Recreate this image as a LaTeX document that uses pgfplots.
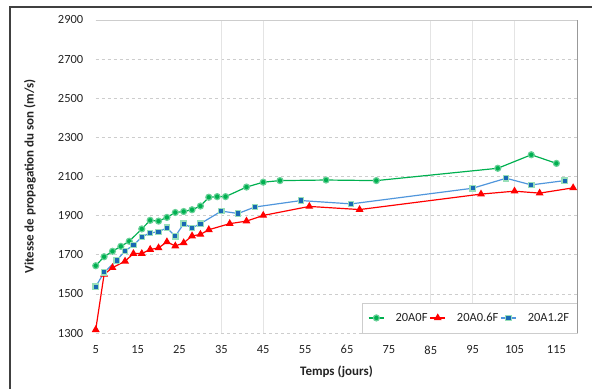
\documentclass[border=0pt]{standalone}
\usepackage{fontspec}
\setmainfont{Carlito}
\usepackage{pgfplots}
\pgfplotsset{compat=1.18}
\definecolor{cgreen}{RGB}{0,176,80}
\definecolor{cred}{RGB}{255,0,0}
\definecolor{cblueline}{RGB}{80,150,220}
\definecolor{cbluemark}{RGB}{25,105,180}
\definecolor{gridc}{RGB}{205,205,205}
\definecolor{vgridc}{RGB}{228,228,228}
\definecolor{txt}{RGB}{35,35,35}
\pgfplotstableread{
x y
5 1644
7 1690
9 1718
11 1743
13 1769
16 1832
18 1876
20 1872
22 1891
24 1916
26 1921
28 1930
30 1949
32 1994
34 1997
36 1997
41 2046
45 2071
49 2079
60 2082
72 2079
101 2142
109 2211
115 2167
}\greendata
\pgfplotstableread{
x y
5 1317
7 1600
9 1634
12 1667
14 1706
16 1706
18 1727
20 1735
22 1766
24 1745
26 1761
28 1796
30 1804
32 1828
37 1859
41 1872
45 1901
56 1947
68 1931
97 2010
105 2025
111 2015
119 2042
}\reddata
\pgfplotstableread{
x y
5 1537
7 1610
10 1671
12 1720
14 1749
16 1791
18 1812
20 1817
22 1838
24 1794
26 1859
28 1837
30 1859
35 1923
39 1911
43 1944
54 1977
66 1960
95 2040
103 2091
109 2057
117 2079
}\bluedata
\begin{document}
\begin{tikzpicture}
\begin{axis}[name=ax,
  scale only axis, width=483pt, height=314pt,
  xmin=5, xmax=120, ymin=1300, ymax=2900,
  xtick={5,15,...,115}, ytick={1300,1500,...,2900},
  extra x ticks={35,45,85,95,105},
  extra x tick labels={},
  extra x tick style={xmajorgrids=true, major grid style={draw=vgridc, line width=0.8pt, solid}},
  ymajorgrids=true,
  major grid style={draw=gridc, dash pattern=on 3pt off 3pt, line width=0.8pt},
  major tick length=0pt,
  axis line style={draw=none},
  /pgf/number format/assume math mode=true,
  /pgf/number format/set thousands separator={},
  tick label style={font=\fontsize{12.5}{14}\selectfont, text=txt},
  xticklabel style={yshift=-9pt},
  yticklabel style={xshift=-9pt},
  xlabel={Temps (jours)},
  ylabel={Vitesse de propagation du son (m/s)},
  label style={font=\fontsize{13}{15}\selectfont\bfseries, text=txt},
  xlabel style={at={([yshift=-39pt]rel axis cs:0.5,0)}, anchor=center},
  ylabel style={at={([xshift=-66pt]rel axis cs:0,0.5)}, anchor=center},
  legend columns=3,
  legend style={at={(rel axis cs:1,0)}, anchor=south east, draw=gridc, fill=white,
    font=\fontsize{12.5}{14}\selectfont, text=txt, inner xsep=6pt, inner ysep=8pt,
    /tikz/every odd column/.append style={column sep=9pt}},
  legend image code/.code={\draw[mark repeat=2,mark phase=2] plot coordinates {(0cm,0cm)(0.27cm,0cm)(0.54cm,0cm)};},
]
\addplot[cgreen, line width=1.2pt, mark=*, mark size=3pt, mark options={fill=cgreen, draw=cgreen!60!white}] table {\greendata};
\addlegendentry{20A0F}
\addplot[cred, line width=1.2pt, mark=triangle*, mark size=3.4pt, mark options={fill=cred, draw=cred}] table {\reddata};
\addlegendentry{20A0.6F}
\addplot[cblueline, line width=1.2pt, mark=square*, mark size=2.7pt, mark options={fill=cbluemark, draw=cgreen!40!white}] table {\bluedata};
\addlegendentry{20A1.2F}
\end{axis}
\draw[gray!80, line width=0.9pt] (ax.south east) -- (ax.north east);
\draw[gridc, line width=0.8pt] (ax.north west) -- (ax.north east);
\path (ax.south west) ++(-96pt,-55pt) rectangle ++(593pt,389pt);
\draw[black!75, line width=1.4pt] ([shift={(-86pt,-56pt)}]ax.south west) -- ([shift={(-86pt,327pt)}]ax.south west) -- ([shift={(498pt,327pt)}]ax.south west);
\end{tikzpicture}
\end{document}
